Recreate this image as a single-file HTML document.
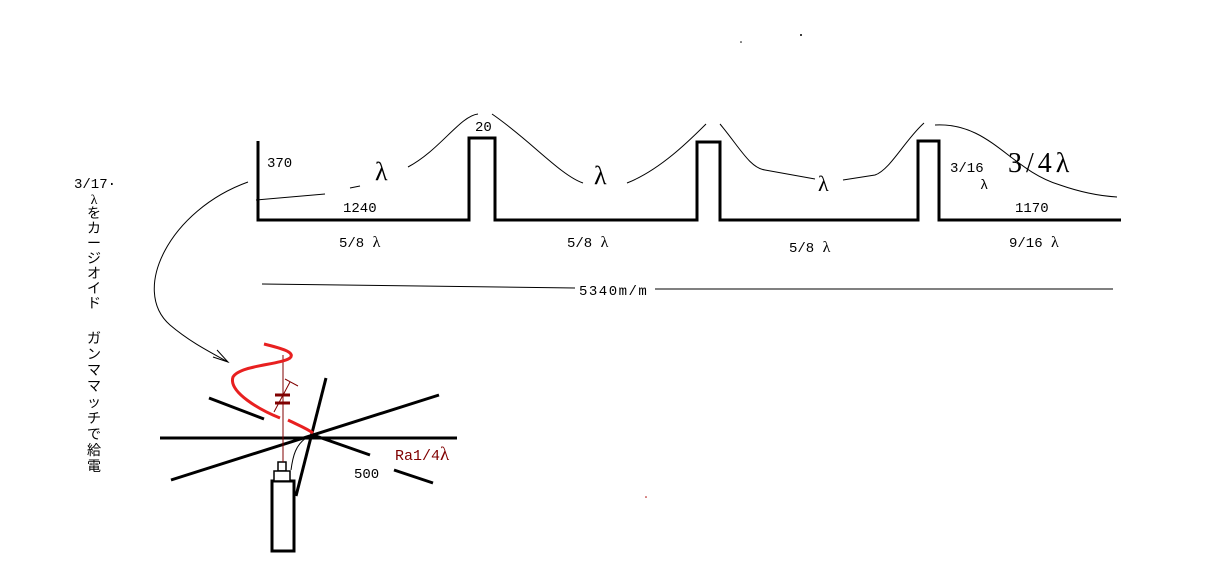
<!DOCTYPE html>
<html><head><meta charset="utf-8"><style>
html,body{margin:0;padding:0;background:#fff;}
svg{display:block;}
text{font-family:"Liberation Mono","Noto Sans CJK JP",monospace;}
</style></head><body>
<svg width="1206" height="574" viewBox="0 0 1206 574" xmlns="http://www.w3.org/2000/svg">
<polyline points="258,141 258,220 469,220 469,138 495,138 495,220 697,220 697,142 720,142 720,220 918,220 918,141 939,141 939,220 1121,220" fill="none" stroke="#000" stroke-width="3"/>
<g fill="none" stroke="#000" stroke-width="1">
<path d="M256,200 L325,194"/>
<path d="M350,188 L360,186"/>
<path d="M408,167 C440,150 460,116 478,114"/>
<path d="M492,114 C530,140 560,175 583,183"/>
<path d="M627,183 C660,170 690,140 706,124"/>
<path d="M720,124 C740,148 750,168 765,170 L815,179"/>
<path d="M843,180 L875,175 C890,170 905,140 924,123"/>
<path d="M935,125 C990,122 1010,170 1060,185 C1080,192 1100,196 1117,197"/>
<path d="M262,284 L575,288"/>
<path d="M655,289 L1113,289"/>
<path d="M248,182 C170,210 130,290 170,325 C190,342 210,352 228,362"/>
<path d="M217,350 L228,362 L213,357"/>
</g>
<g font-size="14" fill="#000">
<text x="267" y="167">370</text>
<text x="343" y="212">1240</text>
<text x="475" y="131">20</text>
<text x="950" y="172">3/16</text>
<text x="980" y="189" font-family="Liberation Serif">λ</text>
<text x="1015" y="212">1170</text>
<text x="339" y="247">5/8 <tspan font-family="Liberation Serif" font-size="16">λ</tspan></text>
<text x="567" y="247">5/8 <tspan font-family="Liberation Serif" font-size="16">λ</tspan></text>
<text x="789" y="252">5/8 <tspan font-family="Liberation Serif" font-size="16">λ</tspan></text>
<text x="1009" y="247">9/16 <tspan font-family="Liberation Serif" font-size="16">λ</tspan></text>
<text x="579" y="295" letter-spacing="1.5">5340m/m</text>
<text x="354" y="478">500</text>
</g>
<g fill="#000">
<text x="375" y="180" font-size="26" style="font-family:'Liberation Serif'">λ</text>
<text x="594" y="184" font-size="26" style="font-family:'Liberation Serif'">λ</text>
<text x="818" y="191" font-size="22" style="font-family:'Liberation Serif'">λ</text>
<text x="1008" y="172" font-size="28" letter-spacing="4" style="font-family:'Liberation Serif'">3/4λ</text>
</g>
<g font-size="14" fill="#000" text-anchor="middle">
<text x="95" y="188">3/17·</text>
<text x="94" y="204" style="font-family:'Liberation Serif'">λ</text>
<text x="94" y="218">を</text>
<text x="94" y="233">カ</text>
<text x="94" y="248">ー</text>
<text x="94" y="263">ジ</text>
<text x="94" y="278">オ</text>
<text x="94" y="293">イ</text>
<text x="94" y="308">ド</text>
<text x="94" y="343">ガ</text>
<text x="94" y="359">ン</text>
<text x="94" y="375">マ</text>
<text x="94" y="391">マ</text>
<text x="94" y="407">ッ</text>
<text x="94" y="423">チ</text>
<text x="94" y="439">で</text>
<text x="94" y="455">給</text>
<text x="94" y="471">電</text>
</g>
<g stroke="#000" stroke-width="3" fill="none">
<line x1="160" y1="438" x2="457" y2="438"/>
<line x1="171" y1="480" x2="439" y2="395"/>
<line x1="209" y1="398" x2="264" y2="419"/>
<line x1="313" y1="435" x2="370" y2="455"/>
<line x1="394" y1="470" x2="433" y2="483"/>
<line x1="326" y1="378" x2="296" y2="496"/>
<rect x="272" y="481" width="22" height="70"/>
</g>
<g stroke="#000" stroke-width="1.5" fill="#fff">
<rect x="278" y="462" width="8" height="9"/>
<rect x="274" y="471" width="16" height="10"/>
</g>
<path d="M291,470 C293,455 296,445 306,438" stroke="#000" stroke-width="1" fill="none"/>
<line x1="283" y1="355" x2="283" y2="462" stroke="#800000" stroke-width="1"/>
<line x1="275" y1="395" x2="290" y2="395" stroke="#800000" stroke-width="3"/>
<line x1="275" y1="403" x2="290" y2="403" stroke="#800000" stroke-width="3"/>
<path d="M274,412 L290,382 M285,379 L298,386" stroke="#800000" stroke-width="1" fill="none"/>
<path d="M264,344 C280,348 296,352 290,358 C280,365 240,365 233,377 C228,392 260,410 280,418" stroke="#e82020" stroke-width="3" fill="none"/>
<path d="M288,420 C298,425 306,428 313,433" stroke="#e82020" stroke-width="3" fill="none"/>
<text x="395" y="460" font-size="15" fill="#800000">Ra1/4<tspan font-size="19" style="font-family:'Liberation Serif'">λ</tspan></text>
<circle cx="741" cy="42" r="0.8" fill="#000"/>
<circle cx="801" cy="35" r="1" fill="#000"/>
<circle cx="646" cy="497" r="0.8" fill="#a00"/>
</svg>
</body></html>
